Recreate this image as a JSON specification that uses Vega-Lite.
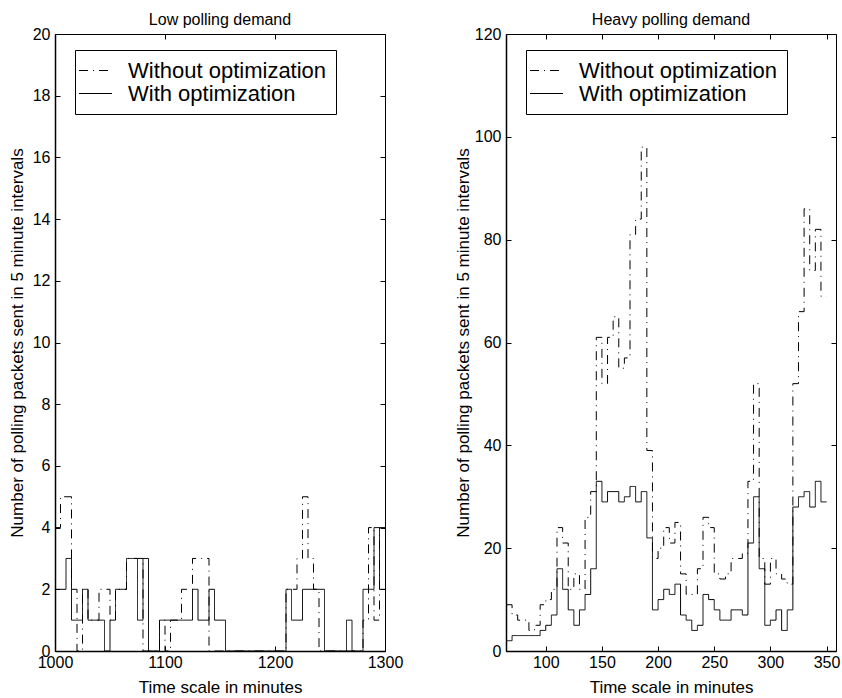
{
  "$schema": "https://vega.github.io/schema/vega-lite/v6.json",
  "background": "white",
  "padding": {"left": 7, "top": 11, "right": 2, "bottom": 2},
  "config": {
    "font": "Liberation Sans",
    "view": {"stroke": "black", "strokeWidth": 1},
    "axis": {
      "labelFont": "Liberation Sans", "titleFont": "Liberation Sans",
      "labelFontSize": 16, "titleFontSize": 17, "titleFontWeight": "normal",
      "labelColor": "black", "titleColor": "black",
      "domainColor": "black", "tickColor": "black", "domainWidth": 1.5,
      "tickSize": -5, "tickWidth": 1, "grid": false, "labelFlush": false
    },
    "title": {"font": "Liberation Sans", "fontSize": 16, "fontWeight": "normal", "color": "black", "offset": -2},
    "legend": {
      "strokeColor": "black", "fillColor": "white", "padding": 9, "cornerRadius": 0,
      "labelFont": "Liberation Sans", "labelFontSize": 22, "labelColor": "black",
      "symbolType": "M-1.5,0H1.5", "symbolSize": 484, "symbolStrokeWidth": 1, "symbolStrokeColor": "black",
      "symbolFillColor": "transparent",
      "labelOffset": 21, "labelLimit": 400
    }
  },
  "datasets": {
    "low": [
      {"t":1000,"without":4,"with":2},{"t":1005,"without":5,"with":2},{"t":1010,"without":5,"with":3},{"t":1015,"without":2,"with":1},
      {"t":1020,"without":0,"with":1},{"t":1025,"without":2,"with":2},{"t":1030,"without":1,"with":1},{"t":1035,"without":1,"with":1},
      {"t":1040,"without":2,"with":1},{"t":1045,"without":2,"with":0},{"t":1050,"without":1,"with":1},{"t":1055,"without":2,"with":2},
      {"t":1060,"without":2,"with":2},{"t":1065,"without":3,"with":3},{"t":1070,"without":3,"with":3},{"t":1075,"without":3,"with":1},
      {"t":1080,"without":0,"with":3},{"t":1085,"without":0,"with":0},{"t":1090,"without":0,"with":0},{"t":1095,"without":1,"with":1},
      {"t":1100,"without":0,"with":1},{"t":1105,"without":1,"with":1},{"t":1110,"without":1,"with":1},{"t":1115,"without":2,"with":1},
      {"t":1120,"without":2,"with":1},{"t":1125,"without":3,"with":2},{"t":1130,"without":3,"with":1},{"t":1135,"without":3,"with":1},
      {"t":1140,"without":0,"with":2},{"t":1145,"without":0,"with":1},{"t":1150,"without":0,"with":1},{"t":1155,"without":0,"with":0},
      {"t":1160,"without":0,"with":0},{"t":1165,"without":0,"with":0},{"t":1170,"without":0,"with":0},{"t":1175,"without":0,"with":0},
      {"t":1180,"without":0,"with":0},{"t":1185,"without":0,"with":0},{"t":1190,"without":0,"with":0},{"t":1195,"without":0,"with":0},
      {"t":1200,"without":0,"with":0},{"t":1205,"without":0,"with":0},{"t":1210,"without":2,"with":2},{"t":1215,"without":2,"with":1},
      {"t":1220,"without":3,"with":1},{"t":1225,"without":5,"with":2},{"t":1230,"without":3,"with":2},{"t":1235,"without":2,"with":2},
      {"t":1240,"without":0,"with":2},{"t":1245,"without":0,"with":0},{"t":1250,"without":0,"with":0},{"t":1255,"without":0,"with":0},
      {"t":1260,"without":0,"with":0},{"t":1265,"without":0,"with":1},{"t":1270,"without":0,"with":0},{"t":1275,"without":0,"with":0},
      {"t":1280,"without":1,"with":2},{"t":1285,"without":4,"with":2},{"t":1290,"without":1,"with":4},{"t":1295,"without":4,"with":2},
      {"t":1300,"without":4,"with":2}
    ],
    "heavy": [
      {"t":65,"without":9,"with":2},{"t":70,"without":7,"with":3},{"t":75,"without":6,"with":3},{"t":80,"without":6,"with":3},
      {"t":85,"without":4,"with":3},{"t":90,"without":5,"with":3},{"t":95,"without":9,"with":4},{"t":100,"without":10,"with":5},
      {"t":105,"without":12,"with":7},{"t":110,"without":24,"with":16},{"t":115,"without":21,"with":12},{"t":120,"without":12,"with":8},
      {"t":125,"without":15,"with":5},{"t":130,"without":12,"with":8},{"t":135,"without":26,"with":11},{"t":140,"without":31,"with":16},
      {"t":145,"without":61,"with":33},{"t":150,"without":52,"with":29},{"t":155,"without":61,"with":31},{"t":160,"without":65,"with":31},
      {"t":165,"without":55,"with":29},{"t":170,"without":57,"with":30},{"t":175,"without":81,"with":32},{"t":180,"without":84,"with":29},
      {"t":185,"without":98,"with":31},{"t":190,"without":39,"with":22},{"t":195,"without":18,"with":8},{"t":200,"without":20,"with":10},
      {"t":205,"without":24,"with":12},{"t":210,"without":21,"with":11},{"t":215,"without":25,"with":13},{"t":220,"without":15,"with":7},
      {"t":225,"without":11,"with":6},{"t":230,"without":11,"with":4},{"t":235,"without":16,"with":5},{"t":240,"without":26,"with":11},
      {"t":245,"without":24,"with":10},{"t":250,"without":15,"with":8},{"t":255,"without":14,"with":6},{"t":260,"without":15,"with":6},
      {"t":265,"without":18,"with":8},{"t":270,"without":18,"with":8},{"t":275,"without":19,"with":7},{"t":280,"without":33,"with":21},
      {"t":285,"without":52,"with":30},{"t":290,"without":18,"with":16},{"t":295,"without":13,"with":5},{"t":300,"without":18,"with":6},
      {"t":305,"without":15,"with":8},{"t":310,"without":14,"with":4},{"t":315,"without":13,"with":8},{"t":320,"without":52,"with":28},
      {"t":325,"without":66,"with":30},{"t":330,"without":86,"with":31},{"t":335,"without":74,"with":28},{"t":340,"without":82,"with":33},
      {"t":345,"without":69,"with":29},{"t":350,"without":69,"with":29}
    ]
  },
  "spacing": 49,
  "resolve": {"scale": {"strokeDash": "independent"}, "legend": {"strokeDash": "independent"}},
  "hconcat": [
    {
      "title": "Low polling demand",
      "width": 330, "height": 617,
      "data": {"name": "low"},
      "transform": [{"fold": ["without", "with"], "as": ["s", "n"]}],
      "layer": [
        {
          "mark": {"type": "line", "interpolate": "step-after", "color": "black", "strokeWidth": 1},
          "encoding": {
            "x": {"field": "t", "type": "quantitative", "scale": {"domain": [1000, 1300], "nice": false, "zero": false},
                  "axis": {"values": [1000, 1100, 1200, 1300], "format": "d", "title": "Time scale in minutes", "labelPadding": 8, "titlePadding": 9}},
            "y": {"field": "n", "type": "quantitative", "scale": {"domain": [0, 20], "nice": false},
                  "axis": {"values": [0,2,4,6,8,10,12,14,16,18,20], "title": "Number of polling packets sent in 5 minute intervals", "labelPadding": 10, "titlePadding": 6}},
            "strokeDash": {"field": "s", "type": "nominal",
                  "scale": {"domain": ["without", "with"], "range": [[9, 5, 1, 5], [1, 0]]},
                  "legend": {"orient": "none", "legendX": 20, "legendY": 16, "title": null, "rowPadding": 0,
                             "labelExpr": "datum.label == 'without' ? 'Without optimization' : 'With optimization'"}}
          }
        },
        {
          "mark": {"type": "line", "opacity": 0},
          "encoding": {
            "x": {"field": "t", "type": "quantitative", "scale": {"domain": [1000, 1300], "nice": false, "zero": false},
                  "axis": {"orient": "top", "values": [1000, 1100, 1200, 1300], "labels": false, "title": null, "domain": false}},
            "y": {"field": "n", "type": "quantitative", "scale": {"domain": [0, 20], "nice": false},
                  "axis": {"orient": "right", "values": [0,2,4,6,8,10,12,14,16,18,20], "labels": false, "title": null, "domain": false}}
          }
        }
      ],
      "resolve": {"axis": {"x": "independent", "y": "independent"}}
    },
    {
      "title": "Heavy polling demand",
      "width": 330, "height": 617,
      "data": {"name": "heavy"},
      "transform": [{"fold": ["without", "with"], "as": ["s", "n"]}],
      "layer": [
        {
          "mark": {"type": "line", "interpolate": "step-after", "color": "black", "strokeWidth": 1},
          "encoding": {
            "x": {"field": "t", "type": "quantitative", "scale": {"domain": [64.6, 358.4], "nice": false, "zero": false},
                  "axis": {"values": [100, 150, 200, 250, 300, 350], "format": "d", "title": "Time scale in minutes", "labelPadding": 8, "titlePadding": 9}},
            "y": {"field": "n", "type": "quantitative", "scale": {"domain": [0, 120], "nice": false},
                  "axis": {"values": [0,20,40,60,80,100,120], "title": "Number of polling packets sent in 5 minute intervals", "labelPadding": 10, "titlePadding": 2}},
            "strokeDash": {"field": "s", "type": "nominal",
                  "scale": {"domain": ["without", "with"], "range": [[9, 5, 1, 5], [1, 0]]},
                  "legend": {"orient": "none", "legendX": 20, "legendY": 16, "title": null, "rowPadding": 0,
                             "labelExpr": "datum.label == 'without' ? 'Without optimization' : 'With optimization'"}}
          }
        },
        {
          "mark": {"type": "line", "opacity": 0},
          "encoding": {
            "x": {"field": "t", "type": "quantitative", "scale": {"domain": [64.6, 358.4], "nice": false, "zero": false},
                  "axis": {"orient": "top", "values": [100, 150, 200, 250, 300, 350], "labels": false, "title": null, "domain": false}},
            "y": {"field": "n", "type": "quantitative", "scale": {"domain": [0, 120], "nice": false},
                  "axis": {"orient": "right", "values": [0,20,40,60,80,100,120], "labels": false, "title": null, "domain": false}}
          }
        }
      ],
      "resolve": {"axis": {"x": "independent", "y": "independent"}}
    }
  ]
}
